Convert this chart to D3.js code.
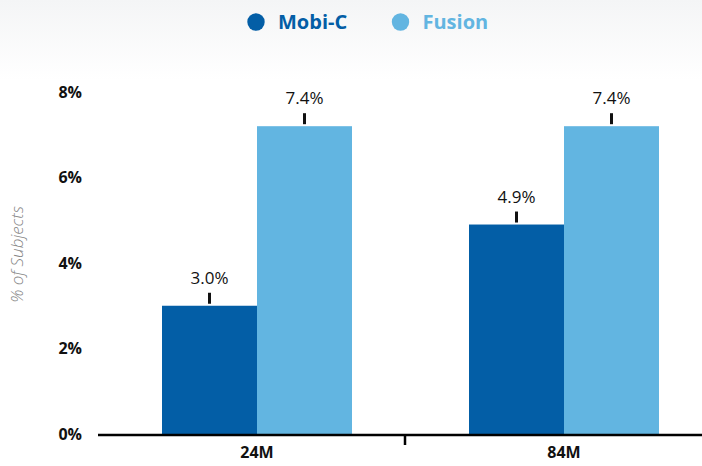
<!DOCTYPE html>
<html><head><meta charset="utf-8">
<script src="https://cdn.jsdelivr.net/npm/d3@7"></script>
<style>body{margin:0;background:#fff}svg{display:block}</style>
</head><body>
<script>
const categories = ["24M", "84M"];
const seriesNames = ["Mobi-C", "Fusion"];
const mobiValues = [3.0, 4.9];
const fusionValues = [7.2, 7.2];
const mobiLabels = ["3.0%", "4.9%"];
const fusionLabels = ["7.4%", "7.4%"];
const yTicks = [0, 2, 4, 6, 8];
const colors = ["#035ea6", "#62b5e1"];

const W = 702, H = 466;
const svg = d3.select("body").append("svg").attr("width", W).attr("height", H);
const defs = svg.append("defs");
const grad = defs.append("linearGradient").attr("id", "bg").attr("x1", 0).attr("x2", 0).attr("y1", 0).attr("y2", 1);
grad.append("stop").attr("offset", "0%").attr("stop-color", "#f4f5f6");
grad.append("stop").attr("offset", "100%").attr("stop-color", "#ffffff");
svg.append("rect").attr("x", 0).attr("y", 0).attr("width", W).attr("height", 80).attr("fill", "url(#bg)");

const font = "'Open Sans', sans-serif";
const y = d3.scaleLinear().domain([0, 8]).range([434, 92]);
const x0 = d3.scaleBand().domain(categories).range([98, 712]).padding(0);
const x1 = d3.scaleBand().domain(seriesNames).range([64, 254]).padding(0);

const data = categories.map((c, i) => ({
  cat: c,
  vals: [
    {s: seriesNames[0], v: mobiValues[i], label: mobiLabels[i]},
    {s: seriesNames[1], v: fusionValues[i], label: fusionLabels[i]}
  ]
}));

// y tick labels
svg.append("g").selectAll("text").data(yTicks).join("text")
  .attr("x", 82).attr("y", d => y(d)).attr("dy", "0.35em")
  .attr("text-anchor", "end").attr("font-family", font).attr("font-weight", 700)
  .attr("font-size", 16).attr("fill", "#111").text(d => d + "%");

// y title
svg.append("text").attr("transform", `translate(23,${y(4.2)}) rotate(-90)`)
  .attr("text-anchor", "middle").attr("font-family", font).attr("font-style", "italic")
  .attr("font-weight", 300).attr("font-size", 17).attr("fill", "#858585").text("% of Subjects");

// bars
const groups = svg.append("g").selectAll("g").data(data).join("g")
  .attr("transform", d => `translate(${x0(d.cat)},0)`);
groups.selectAll("rect").data(d => d.vals).join("rect")
  .attr("x", d => x1(d.s)).attr("width", x1.bandwidth())
  .attr("y", d => y(d.v)).attr("height", d => y(0) - y(d.v))
  .attr("fill", (d, i) => colors[i]);
groups.selectAll("line.err").data(d => d.vals).join("line").attr("class", "err")
  .attr("x1", d => x1(d.s) + x1.bandwidth() / 2).attr("x2", d => x1(d.s) + x1.bandwidth() / 2)
  .attr("y1", d => y(d.v) - 2).attr("y2", d => y(d.v) - 13)
  .attr("stroke", "#111").attr("stroke-width", 3);
groups.selectAll("text.val").data(d => d.vals).join("text").attr("class", "val")
  .attr("x", d => x1(d.s) + x1.bandwidth() / 2).attr("y", d => y(d.v) - 22)
  .attr("text-anchor", "middle").attr("font-family", font).attr("font-size", 17)
  .attr("fill", "#111").text(d => d.label);

// x axis
const xAxis = svg.append("g").attr("transform", `translate(0,${y(0)})`);
xAxis.append("line").attr("x1", 98).attr("x2", W).attr("y1", 1).attr("y2", 1)
  .attr("stroke", "#000").attr("stroke-width", 2.5);
xAxis.append("line").attr("x1", x0(categories[1])).attr("x2", x0(categories[1]))
  .attr("y1", 1).attr("y2", 11).attr("stroke", "#000").attr("stroke-width", 2.5);
xAxis.selectAll("text").data(categories).join("text")
  .attr("x", d => x0(d) + (x1.range()[0] + x1.range()[1]) / 2).attr("y", 24)
  .attr("text-anchor", "middle").attr("font-family", font).attr("font-weight", 700)
  .attr("font-size", 16).attr("fill", "#111").text(d => d);

// legend
const legend = svg.append("g");
const legX = [256, 400.5];
seriesNames.forEach((s, i) => {
  legend.append("circle").attr("cx", legX[i]).attr("cy", 22).attr("r", 8.7).attr("fill", colors[i]);
  legend.append("text").attr("x", legX[i] + 22).attr("y", 22).attr("dy", "0.35em")
    .attr("font-family", font).attr("font-weight", 700).attr("font-size", 20)
    .attr("fill", colors[i]).text(s);
});
</script>
</body></html>
